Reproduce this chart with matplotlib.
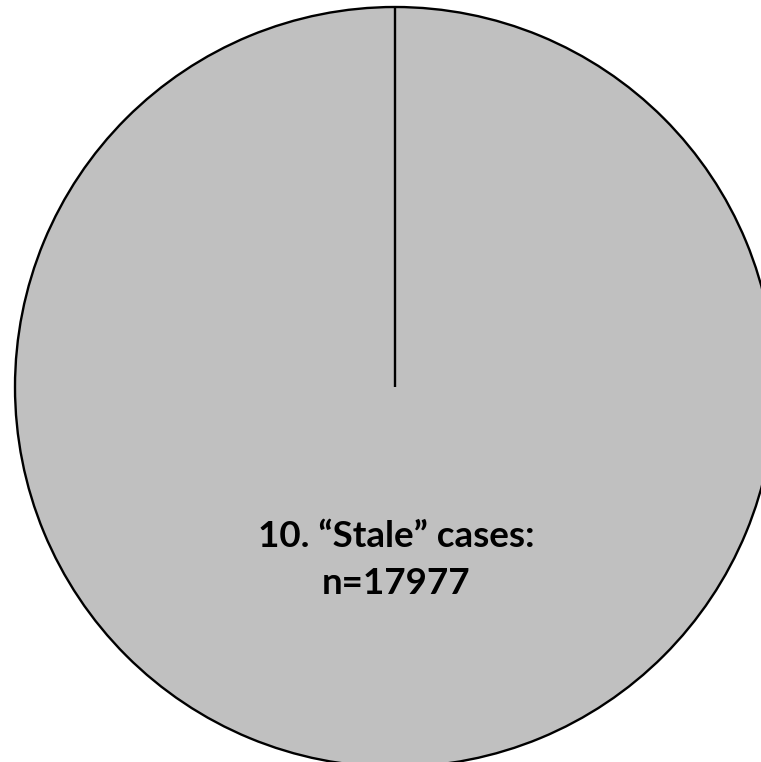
import numpy as np
import matplotlib
matplotlib.use("Agg")
from matplotlib import pyplot as plt

# single-category pie
labels = ["10. \u201cStale\u201d cases"]
counts = [17977]

W, H = 761, 762
fig = plt.figure(figsize=(W / 100, H / 100), dpi=100)
ax = fig.add_axes([0, 0, 1, 1])

center = (395, H - 387)
radius = 380
start = 90

ax.pie(counts, center=center, radius=radius, startangle=start, counterclock=False,
       colors=["#c0c0c0"], wedgeprops=dict(edgecolor="black", linewidth=1.7),
       frame=True)
ax.set_xlim(0, W)
ax.set_ylim(0, H)
ax.set_aspect("equal")
ax.axis("off")

# radial boundary at the start angle
t = np.deg2rad(start)
ax.plot([center[0], center[0] + radius * np.cos(t)],
        [center[1], center[1] + radius * np.sin(t)],
        color="black", linewidth=1.7, solid_capstyle="butt")

ax.text(396, H - 560, f"{labels[0]}:\nn={counts[0]}", ha="center", va="center",
        fontsize=26.5, fontweight="bold", family="Lato", linespacing=1.5)

fig.savefig("out.png", dpi=100)
